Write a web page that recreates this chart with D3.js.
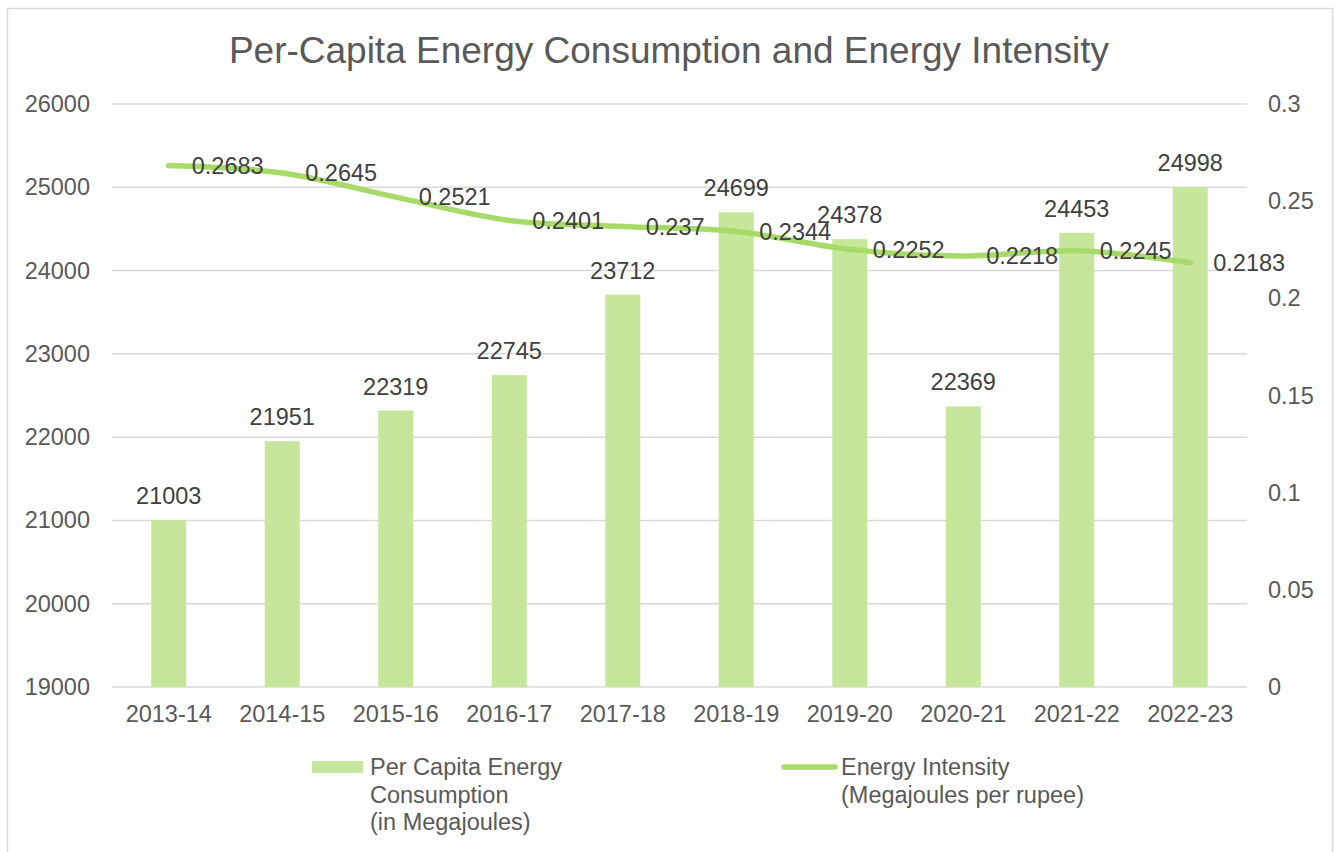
<!DOCTYPE html>
<html>
<head>
<meta charset="utf-8">
<script src="https://cdn.jsdelivr.net/npm/d3@7"></script>
<style>
  html, body { margin: 0; padding: 0; background: #fff; }
  svg { display: block; font-family: "Liberation Sans", Arial, sans-serif; }
</style>
</head>
<body>
<svg id="chart" width="1335" height="852"></svg>
<script>
var years = ["2013-14", "2014-15", "2015-16", "2016-17", "2017-18", "2018-19", "2019-20", "2020-21", "2021-22", "2022-23"];
var perCapita = [21003, 21951, 22319, 22745, 23712, 24699, 24378, 22369, 24453, 24998];
var intensity = [0.2683, 0.2645, 0.2521, 0.2401, 0.237, 0.2344, 0.2252, 0.2218, 0.2245, 0.2183];
var leftTicks = [19000, 20000, 21000, 22000, 23000, 24000, 25000, 26000];
var rightTicks = [0, 0.05, 0.1, 0.15, 0.2, 0.25, 0.3];

var barColor = "#c5e69b";
var lineColor = "#a8da6a";
var textColor = "#595959";
var labelColor = "#404040";

var svg = d3.select("#chart");
var margin = { left: 112, right: 1247, top: 104, bottom: 687 };

// outer border
svg.append("rect")
	.attr("x", 7.5).attr("y", 8.5)
	.attr("width", 1325).attr("height", 860)
	.attr("fill", "none").attr("stroke", "#d9d9d9").attr("stroke-width", 1.5);

svg.append("text")
	.attr("x", 669).attr("y", 63)
	.attr("text-anchor", "middle")
	.attr("font-size", 37)
	.attr("fill", textColor)
	.text("Per-Capita Energy Consumption and Energy Intensity");

var x = d3.scaleBand().domain(years).range([margin.left, margin.right]).paddingInner(0).paddingOuter(0);
var yL = d3.scaleLinear().domain([19000, 26000]).range([margin.bottom, margin.top]);
var yR = d3.scaleLinear().domain([0, 0.3]).range([margin.bottom, margin.top]);

// gridlines
svg.append("g").selectAll("line")
	.data(leftTicks)
	.enter().append("line")
	.attr("x1", margin.left).attr("x2", margin.right)
	.attr("y1", d => yL(d)).attr("y2", d => yL(d))
	.attr("stroke", "#d9d9d9").attr("stroke-width", 1.5);

// left axis
var leftAxis = svg.append("g")
	.attr("transform", `translate(${margin.left - 22},0)`)
	.call(d3.axisLeft(yL).tickValues(leftTicks).tickSize(0).tickPadding(0).tickFormat(d3.format("d")));
leftAxis.select(".domain").remove();
leftAxis.selectAll("text").attr("font-size", 23.5).attr("fill", textColor).attr("font-family", null);

// right axis
var rightAxis = svg.append("g")
	.attr("transform", `translate(${margin.right + 21},0)`)
	.call(d3.axisRight(yR).tickValues(rightTicks).tickSize(0).tickPadding(0).tickFormat(d => d3.format("")(+d.toFixed(2))));
rightAxis.select(".domain").remove();
rightAxis.selectAll("text").attr("font-size", 23.5).attr("fill", textColor).attr("font-family", null);

// x axis
var xAxis = svg.append("g")
	.attr("transform", `translate(0,${margin.bottom})`)
	.call(d3.axisBottom(x).tickSize(0).tickPadding(18));
xAxis.select(".domain").remove();
xAxis.selectAll("text").attr("font-size", 23.5).attr("fill", textColor).attr("font-family", null);

var barW = 35;
svg.append("g").selectAll("rect")
	.data(perCapita)
	.enter().append("rect")
	.attr("x", (d, i) => x(years[i]) + x.bandwidth() / 2 - barW / 2)
	.attr("y", d => yL(d))
	.attr("width", barW)
	.attr("height", d => yL(19000) - yL(d))
	.attr("fill", barColor);

svg.append("g").selectAll("text")
	.data(perCapita)
	.enter().append("text")
	.attr("x", (d, i) => x(years[i]) + x.bandwidth() / 2)
	.attr("y", d => yL(d) - 16)
	.attr("text-anchor", "middle")
	.attr("font-size", 23.5)
	.attr("fill", labelColor)
	.text(d => d);

var line = d3.line()
	.x((d, i) => x(years[i]) + x.bandwidth() / 2)
	.y(d => yR(d))
	.curve(d3.curveCatmullRom.alpha(0.5));

svg.append("path")
	.datum(intensity)
	.attr("d", line)
	.attr("fill", "none")
	.attr("stroke", lineColor)
	.attr("stroke-width", 5.5)
	.attr("stroke-linecap", "round")
	.attr("stroke-linejoin", "round");

svg.append("g").selectAll("text")
	.data(intensity)
	.enter().append("text")
	.attr("x", (d, i) => x(years[i]) + x.bandwidth() / 2 + 23)
	.attr("y", d => yR(d))
	.attr("dy", "0.35em")
	.attr("font-size", 23.5)
	.attr("fill", labelColor)
	.text(d => d);

// legend
var legend = svg.append("g");
legend.append("rect")
	.attr("x", 312).attr("y", 761).attr("width", 51).attr("height", 12)
	.attr("fill", barColor);
legend.append("text")
	.attr("x", 370).attr("y", 767)
	.attr("font-size", 23.5).attr("fill", textColor)
	.selectAll("tspan")
	.data(["Per Capita Energy", "Consumption", "(in Megajoules)"])
	.enter().append("tspan")
	.attr("x", 370)
	.attr("dy", (d, i) => i == 0 ? "0.35em" : 27.5)
	.text(d => d);

legend.append("line")
	.attr("x1", 784).attr("x2", 835).attr("y1", 767).attr("y2", 767)
	.attr("stroke", lineColor).attr("stroke-width", 5.5).attr("stroke-linecap", "round");
legend.append("text")
	.attr("x", 841).attr("y", 767)
	.attr("font-size", 23.5).attr("fill", textColor)
	.selectAll("tspan")
	.data(["Energy Intensity", "(Megajoules per rupee)"])
	.enter().append("tspan")
	.attr("x", 841)
	.attr("dy", (d, i) => i == 0 ? "0.35em" : 27.5)
	.text(d => d);
</script>
</body>
</html>
